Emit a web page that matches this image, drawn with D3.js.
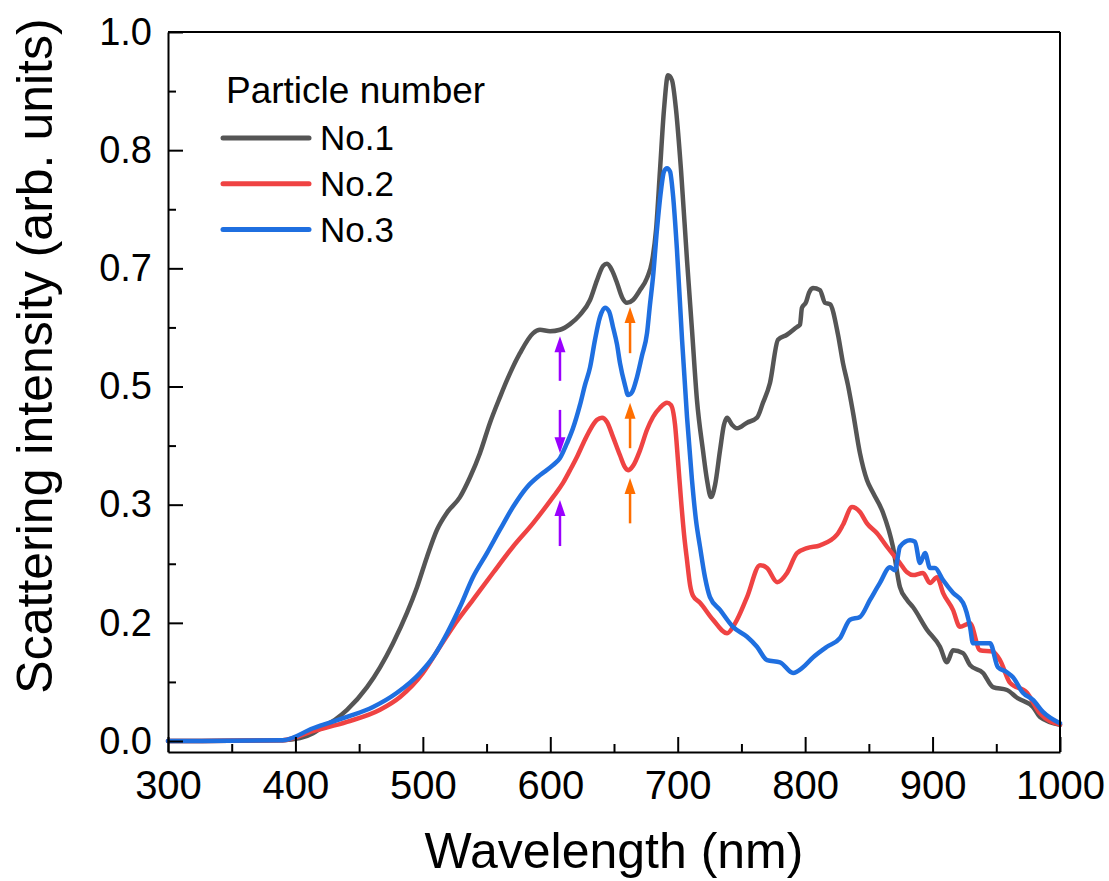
<!DOCTYPE html>
<html>
<head>
<meta charset="utf-8">
<script src="https://cdn.jsdelivr.net/npm/d3@7"></script>
<style>
  body { margin: 0; background: #fff; }
  text { font-family: "Liberation Sans", Arial, sans-serif; fill: #000; }
</style>
</head>
<body>
<div id="chart"></div>
<script>
// Series names and colours
const seriesNames = ["No.1", "No.2", "No.3"];
const seriesColors = ["#555555", "#ef4343", "#1f6fe0"];

// Spectra: [wavelength (nm), intensity]
const no1 = [
  [300, 0], [390, 0.001], [403.6, 0.004], [413.8, 0.011], [421.6, 0.020], [431, 0.030],
  [440.5, 0.044], [456.2, 0.076], [466.4, 0.104], [476.6, 0.138], [487.6, 0.181],
  [495.4, 0.217], [503.3, 0.260], [511.1, 0.298], [518.9, 0.322], [529.1, 0.344],
  [537, 0.372], [544.8, 0.406], [552.7, 0.449], [560.5, 0.485], [566, 0.509],
  [576.2, 0.547], [586.4, 0.575], [591.9, 0.580], [599.8, 0.578], [607.6, 0.580],
  [615.5, 0.588], [623.3, 0.601], [631.2, 0.622], [636.7, 0.650], [641.4, 0.670],
  [644.5, 0.673], [648.4, 0.664], [652.4, 0.646], [656.3, 0.626], [660.2, 0.618],
  [664.9, 0.622], [670.4, 0.636], [675.9, 0.653], [679.8, 0.676], [683, 0.721],
  [686.1, 0.805], [689.2, 0.890], [692.4, 0.939], [695.5, 0.932], [698.7, 0.890],
  [702.6, 0.805], [707.3, 0.678], [711.2, 0.580], [715.1, 0.481], [719.8, 0.410],
  [723, 0.368], [726.1, 0.344], [729.3, 0.361], [733.2, 0.410], [736.3, 0.446],
  [738.7, 0.456], [742.6, 0.446], [746.6, 0.441], [754.4, 0.449], [762.2, 0.456],
  [766.9, 0.477], [772.4, 0.505], [778.7, 0.566], [785.7, 0.573], [793.6, 0.584],
  [795.9, 0.587], [797.5, 0.611], [800.7, 0.619], [803, 0.632], [806.1, 0.639],
  [811.6, 0.636], [815.6, 0.618], [819.5, 0.616], [825.8, 0.573], [829.7, 0.533],
  [833.6, 0.502], [837.6, 0.463], [843, 0.406], [848.5, 0.368], [853.3, 0.350],
  [861.1, 0.322], [868.9, 0.274], [874.4, 0.217], [880, 0.199], [884.6, 0.189],
  [895.6, 0.157], [905.8, 0.133], [911.3, 0.111], [916, 0.128], [923.9, 0.124],
  [929.4, 0.107], [939.6, 0.096], [947.4, 0.076], [958.4, 0.072], [966.3, 0.061],
  [978.8, 0.048], [984.3, 0.034], [1000, 0.023]
];

const no2 = [
  [300, 0], [390, 0.001], [413.8, 0.014], [440.5, 0.027], [466.4, 0.044], [482.1, 0.062],
  [500.1, 0.096], [513.4, 0.133], [523.6, 0.161], [539.3, 0.199], [555, 0.237],
  [570.7, 0.274], [586.4, 0.307], [602.1, 0.344], [610, 0.364], [615.5, 0.382],
  [621, 0.401], [627.2, 0.425], [631.2, 0.439], [636.7, 0.453], [640.6, 0.456],
  [644.5, 0.450], [649.2, 0.429], [654.7, 0.403], [658.6, 0.386], [661, 0.382],
  [664.9, 0.388], [670.4, 0.410], [675.9, 0.439], [680.6, 0.457], [686.1, 0.470],
  [691.6, 0.477], [694.7, 0.474], [697.9, 0.446], [700.2, 0.396], [702.6, 0.340],
  [705, 0.291], [707.3, 0.255], [709.7, 0.220], [712, 0.205], [717.5, 0.195],
  [727.7, 0.171], [738.7, 0.152], [745, 0.166], [754.4, 0.203], [764.6, 0.248],
  [770.1, 0.244], [778, 0.224], [785.8, 0.237], [793.6, 0.265], [801.5, 0.272],
  [811.7, 0.276], [825, 0.291], [829.7, 0.305], [836.8, 0.330], [843, 0.323],
  [848.5, 0.307], [856.4, 0.293], [864.2, 0.274], [874.4, 0.251], [880, 0.238],
  [884.6, 0.234], [892.5, 0.237], [898, 0.223], [903.5, 0.231], [908.2, 0.209],
  [916, 0.185], [921.5, 0.161], [929.4, 0.166], [937.2, 0.128], [947.4, 0.126],
  [952.9, 0.114], [960.8, 0.082], [974.1, 0.068], [984.3, 0.039], [1000, 0.023]
];

const no3 = [
  [300, 0], [390, 0.001], [413.8, 0.018], [440.5, 0.034], [460.9, 0.048], [479.7, 0.068],
  [497.8, 0.096], [508, 0.118], [519, 0.152], [529.1, 0.189], [539.3, 0.231],
  [550.3, 0.265], [560.5, 0.298], [570.7, 0.330], [581.7, 0.358], [591.9, 0.375],
  [602.1, 0.389], [607.6, 0.399], [613.1, 0.420], [617.8, 0.441], [623.3, 0.474],
  [627.2, 0.502], [631.2, 0.527], [635.1, 0.566], [639, 0.598], [642.9, 0.611],
  [646.1, 0.606], [649.2, 0.584], [652.4, 0.559], [654.7, 0.533], [658.6, 0.502],
  [661, 0.488], [664.1, 0.492], [668, 0.513], [671.9, 0.543], [675.9, 0.575],
  [678.2, 0.615], [680.6, 0.654], [683.7, 0.721], [686.9, 0.777], [689.2, 0.803],
  [691.6, 0.808], [694, 0.803], [696.3, 0.770], [699.4, 0.693], [703.4, 0.566],
  [707.3, 0.457], [711.2, 0.368], [714.3, 0.312], [717.5, 0.274], [721.4, 0.231],
  [725.3, 0.203], [733.2, 0.185], [743.4, 0.161], [754.4, 0.147], [762.2, 0.133],
  [770.1, 0.114], [780.3, 0.111], [790.5, 0.096], [798.3, 0.104], [806.2, 0.118],
  [817.1, 0.133], [827.3, 0.145], [835.2, 0.171], [843, 0.175], [850.9, 0.199],
  [858.7, 0.223], [866.6, 0.245], [870.5, 0.241], [874.4, 0.274], [882.3, 0.283],
  [886.2, 0.281], [890.1, 0.251], [894.1, 0.265], [898, 0.244], [901.9, 0.244],
  [908.2, 0.227], [916, 0.209], [923.9, 0.195], [929.4, 0.161], [931.7, 0.138],
  [939.6, 0.138], [945.1, 0.138], [951.3, 0.104], [958.4, 0.097], [963.1, 0.090],
  [970.9, 0.068], [978.8, 0.058], [986.6, 0.041], [1000, 0.025]
];

const seriesData = [no1, no2, no3];

// Marker arrows: wavelength, tail value, tip value
const purpleArrows = [[607.6, 0.508, 0.571], [607.6, 0.467, 0.406], [607.6, 0.275, 0.340]];
const orangeArrows = [[662.6, 0.547, 0.612], [662.6, 0.413, 0.477], [662.6, 0.307, 0.371]];

// Axis ticks
const xTicks = [300, 400, 500, 600, 700, 800, 900, 1000];
const xMinorTicks = [350, 450, 550, 650, 750, 850, 950];
const yTickLabels = ["0.0", "0.2", "0.3", "0.5", "0.7", "0.8", "1.0"];

const width = 1109, height = 881;
const margin = { top: 32, right: 49, bottom: 129, left: 168 };
const innerW = width - margin.left - margin.right;
const innerH = height - margin.top - margin.bottom;

const svg = d3.select("#chart").append("svg")
  .attr("width", width)
  .attr("height", height);

const g = svg.append("g")
  .attr("transform", `translate(${margin.left},${margin.top})`);

// Scales
const xScale = d3.scaleLinear().domain([300, 1000]).range([0, innerW]);
const yScale = d3.scaleLinear().domain([-0.0155, 1.0]).range([innerH, 0]);

const yTickValues = yTickLabels.map((d, i) => i / (yTickLabels.length - 1));
const yMinorValues = d3.range(yTickLabels.length - 1).map(i => (i + 0.5) / (yTickLabels.length - 1));

// Lines
const line = d3.line()
  .x(d => xScale(d[0]))
  .y(d => yScale(d[1]))
  .curve(d3.curveMonotoneX);

g.selectAll(".spectrum")
  .data(seriesData)
  .enter()
  .append("path")
  .attr("class", "spectrum")
  .attr("d", line)
  .attr("fill", "none")
  .attr("stroke", (d, i) => seriesColors[i])
  .attr("stroke-width", 4.5)
  .attr("stroke-linejoin", "round")
  .attr("stroke-linecap", "round");

// Arrows
function drawArrows(list, color) {
  list.forEach(a => {
    const x = xScale(a[0]);
    const y0 = yScale(a[1]);
    const y1 = yScale(a[2]);
    const dir = y1 < y0 ? -1 : 1;
    const headLen = 16, headHalf = 5.5;
    g.append("line")
      .attr("x1", x).attr("x2", x)
      .attr("y1", y0).attr("y2", y1 - dir * headLen * 0.8)
      .attr("stroke", color)
      .attr("stroke-width", 2.5);
    g.append("path")
      .attr("d", `M${x},${y1} L${x - headHalf},${y1 - dir * headLen} L${x + headHalf},${y1 - dir * headLen} Z`)
      .attr("fill", color);
  });
}
drawArrows(purpleArrows, "#9a00ff");
drawArrows(orangeArrows, "#ff6e00");

// Frame (top and right)
g.append("line").attr("x1", 0).attr("x2", innerW).attr("y1", 0).attr("y2", 0)
  .attr("stroke", "#000").attr("stroke-width", 2);
g.append("line").attr("x1", innerW).attr("x2", innerW).attr("y1", 0).attr("y2", innerH)
  .attr("stroke", "#000").attr("stroke-width", 2);

// Left axis
const yAxis = g.append("g")
  .call(d3.axisLeft(yScale)
    .tickValues(yTickValues)
    .tickFormat((d, i) => yTickLabels[i])
    .tickSizeInner(-15)
    .tickSizeOuter(0)
    .tickPadding(16));
yAxis.append("g")
  .call(d3.axisLeft(yScale)
    .tickValues(yMinorValues)
    .tickFormat("")
    .tickSizeInner(-8)
    .tickSizeOuter(0))
  .select(".domain").remove();

// Bottom axis
const xAxis = g.append("g")
  .attr("transform", `translate(0,${innerH})`)
  .call(d3.axisBottom(xScale)
    .tickValues(xTicks)
    .tickFormat(d3.format("d"))
    .tickSizeInner(-15)
    .tickSizeOuter(0)
    .tickPadding(19));
xAxis.append("g")
  .call(d3.axisBottom(xScale)
    .tickValues(xMinorTicks)
    .tickFormat("")
    .tickSizeInner(-8)
    .tickSizeOuter(0))
  .select(".domain").remove();

svg.selectAll(".domain").attr("stroke", "#000").attr("stroke-width", 2);
svg.selectAll(".tick line").attr("stroke", "#000").attr("stroke-width", 2);
yAxis.selectAll(".tick text").attr("font-size", 38).attr("font-family", "Liberation Sans, Arial, sans-serif");
xAxis.selectAll(".tick text").attr("font-size", 40).attr("font-family", "Liberation Sans, Arial, sans-serif");

// Axis titles
svg.append("text")
  .attr("x", margin.left + innerW / 2)
  .attr("y", 868)
  .attr("text-anchor", "middle")
  .attr("font-size", 50)
  .text("Wavelength (nm)");

svg.append("text")
  .attr("transform", "translate(52,356) rotate(-90)")
  .attr("text-anchor", "middle")
  .attr("font-size", 50)
  .text("Scattering intensity (arb. units)");

// Legend
const legend = svg.append("g");
legend.append("text")
  .attr("x", 226)
  .attr("y", 103)
  .attr("font-size", 37)
  .text("Particle number");

const legendRow = legend.selectAll(".legend-row")
  .data(seriesNames)
  .enter()
  .append("g")
  .attr("class", "legend-row")
  .attr("transform", (d, i) => `translate(0,${138 + i * 45.8})`);

legendRow.append("line")
  .attr("x1", 223).attr("x2", 309)
  .attr("y1", 0).attr("y2", 0)
  .attr("stroke", (d, i) => seriesColors[i])
  .attr("stroke-width", 5)
  .attr("stroke-linecap", "round");

legendRow.append("text")
  .attr("x", 320)
  .attr("y", 12)
  .attr("font-size", 35)
  .text(d => d);
</script>
</body>
</html>
